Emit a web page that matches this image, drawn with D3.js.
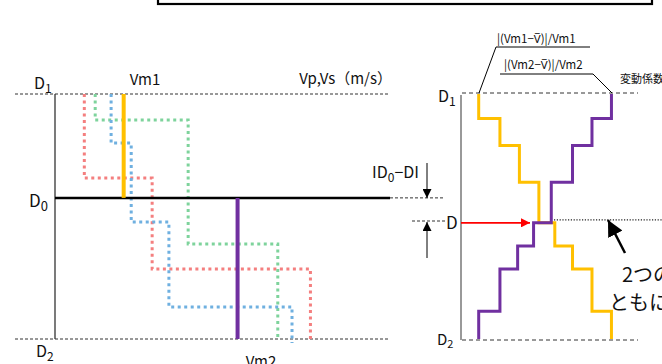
<!DOCTYPE html>
<html><head><meta charset="utf-8">
<script src="https://cdn.jsdelivr.net/npm/d3@7"></script>
<style>
html,body{margin:0;padding:0;background:#fff;}
svg{display:block;}
text{font-family:"Noto Sans CJK JP","Noto Sans",sans-serif;fill:#111;}
</style></head>
<body>
<svg id="c" width="662" height="364"></svg>
<script>
// ---- data ----
const depthLabels = ["D", "D", "D"];
const depthSubs = ["1", "0", "2"];
const depthD0 = 4.24;          // depth of D0 (D1 = 0, D2 = 10)
const vm1 = 82, vm2 = 218;     // mean velocities
const redVel = [35, 116, 305];
const redDepth = [0, 3.43, 7.14, 10];
const greenVel = [48, 159, 266];
const greenDepth = [0, 1.06, 6.12, 10];
const blueVel = [67, 91, 136, 283];
const blueDepth = [0, 2.0, 5.22, 8.69, 10.16];
const cvDepth = [0, 1.0, 2.1, 3.6, 5.26, 6.2, 7.14, 8.87, 10];
const cv1 = [0.10, 0.22, 0.33, 0.44, 0.53, 0.63, 0.74, 0.85];
const cv2 = [0.85, 0.74, 0.63, 0.51, 0.41, 0.32, 0.22, 0.10];
const minDepth = 5.26;

const svg = d3.select("#c");
const y = d3.scaleLinear().domain([0, 10]).range([94, 339]);
const xV = d3.scaleLinear().domain([0, 400]).range([55, 390]);
const xC = d3.scaleLinear().domain([0, 1]).range([461, 638]);

// defs for arrowheads
const defs = svg.append("defs");
function marker(id, color, w, h) {
  defs.append("marker").attr("id", id).attr("viewBox", "0 0 10 10")
    .attr("refX", 10).attr("refY", 5).attr("markerUnits", "userSpaceOnUse")
    .attr("markerWidth", w).attr("markerHeight", h).attr("orient", "auto")
    .append("path").attr("d", "M0,0L10,5L0,10Z").attr("fill", color);
}
marker("ab", "#000", 10, 9);
marker("ar", "#f00", 11, 9);
marker("abig", "#000", 16, 16);

// top box
svg.append("rect").attr("x", 158).attr("y", -20).attr("width", 494).attr("height", 24)
  .attr("fill", "none").attr("stroke", "#000").attr("stroke-width", 2.2);

// ---------- left panel ----------
const L = svg.append("g");
// D1 and D2 dashed
[[0, 15], [10, 15]].forEach(([d, x0]) => {
  L.append("line").attr("x1", x0).attr("x2", 390).attr("y1", y(d)).attr("y2", y(d))
    .attr("stroke", "#333").attr("stroke-width", 1).attr("stroke-dasharray", "3,2");
});
// vertical axis
L.append("line").attr("x1", 55).attr("x2", 55).attr("y1", y(0)).attr("y2", y(10))
  .attr("stroke", "#333").attr("stroke-width", 1.3);

function stepPts(vals, depths, xs) {
  const pts = [];
  vals.forEach((v, i) => { pts.push([xs(v), y(depths[i])]); pts.push([xs(v), y(depths[i + 1])]); });
  return pts;
}
const line = d3.line();
[[redVel, redDepth, "#f47f7f"], [greenVel, greenDepth, "#7ed39c"], [blueVel, blueDepth, "#6fb0e0"]]
  .forEach(([v, d, c]) => {
    L.append("path").attr("d", line(stepPts(v, d, xV))).attr("fill", "none")
      .attr("stroke", c).attr("stroke-width", 3).attr("stroke-dasharray", "3,3.5");
  });

// D0 line
L.append("line").attr("x1", 55).attr("x2", 390).attr("y1", y(depthD0)).attr("y2", y(depthD0))
  .attr("stroke", "#000").attr("stroke-width", 2.5);
L.append("line").attr("x1", 390).attr("x2", 443).attr("y1", y(depthD0)).attr("y2", y(depthD0))
  .attr("stroke", "#333").attr("stroke-width", 1).attr("stroke-dasharray", "3,2");

// Vm1 / Vm2
L.append("line").attr("x1", xV(vm1)).attr("x2", xV(vm1)).attr("y1", y(0)).attr("y2", y(depthD0))
  .attr("stroke", "#ffc000").attr("stroke-width", 4);
L.append("line").attr("x1", xV(vm2)).attr("x2", xV(vm2)).attr("y1", y(depthD0)).attr("y2", y(10))
  .attr("stroke", "#7030a0").attr("stroke-width", 4);

// labels
function dLabel(g, x, yb, main, sub, fs, sfs) {
  const t = g.append("text").attr("x", x).attr("y", yb).style("font-size", fs + "px");
  t.append("tspan").text(main);
  t.append("tspan").attr("dy", fs * 0.22).style("font-size", sfs + "px").text(sub);
  return t;
}
dLabel(L, 34, 89, depthLabels[0], depthSubs[0], 16, 12);
dLabel(L, 29, 207, depthLabels[1], depthSubs[1], 17, 13);
dLabel(L, 36, 357, depthLabels[2], depthSubs[2], 16, 12);
L.append("text").attr("x", 145).attr("y", 85).attr("text-anchor", "middle").style("font-size", "15px").text("Vm1");
L.append("text").attr("x", 392).attr("y", 84).attr("text-anchor", "end").style("font-size", "15px").text("Vp,Vs（m/s）");
L.append("text").attr("x", 261).attr("y", 367).attr("text-anchor", "middle").style("font-size", "15px").text("Vm2");

// ID0-DI annotation
const t0 = L.append("text").attr("x", 372).attr("y", 178).style("font-size", "16px");
t0.append("tspan").text("ID");
t0.append("tspan").attr("dy", 4).style("font-size", "12px").text("0");
t0.append("tspan").attr("dy", -4).text("−DI");
L.append("line").attr("x1", 427).attr("x2", 427).attr("y1", 163).attr("y2", y(depthD0))
  .attr("stroke", "#000").attr("stroke-width", 1).attr("marker-end", "url(#ab)");
L.append("line").attr("x1", 412).attr("x2", 447).attr("y1", 221).attr("y2", 221)
  .attr("stroke", "#333").attr("stroke-width", 1).attr("stroke-dasharray", "3,2");
L.append("line").attr("x1", 427).attr("x2", 427).attr("y1", 258).attr("y2", 222)
  .attr("stroke", "#000").attr("stroke-width", 1).attr("marker-end", "url(#ab)");

// ---------- right panel ----------
const R = svg.append("g");
[[0, 93], [10, 340]].forEach(([d, yy]) => {
  R.append("line").attr("x1", 462).attr("x2", 638).attr("y1", yy).attr("y2", yy)
    .attr("stroke", "#333").attr("stroke-width", 1).attr("stroke-dasharray", "4,3");
});
R.append("line").attr("x1", 461).attr("x2", 461).attr("y1", 95).attr("y2", 340)
  .attr("stroke", "#777").attr("stroke-width", 1.5);

R.append("path").attr("d", line(stepPts(cv1, cvDepth, xC))).attr("fill", "none")
  .attr("stroke", "#ffc000").attr("stroke-width", 3);
R.append("path").attr("d", line(stepPts(cv2, cvDepth, xC))).attr("fill", "none")
  .attr("stroke", "#7030a0").attr("stroke-width", 3);

dLabel(R, 438, 102, depthLabels[0], depthSubs[0], 16, 12);
R.append("text").attr("x", 446).attr("y", 229).style("font-size", "17px").text("D");
dLabel(R, 437, 345, depthLabels[2], depthSubs[2], 15, 11);

// red arrow
R.append("line").attr("x1", 461).attr("x2", 530).attr("y1", y(minDepth)).attr("y2", y(minDepth))
  .attr("stroke", "#f00").attr("stroke-width", 1.6).attr("marker-end", "url(#ar)");
// dotted line
R.append("line").attr("x1", 554).attr("x2", 662).attr("y1", y(minDepth) - 3).attr("y2", y(minDepth) - 3)
  .attr("stroke", "#222").attr("stroke-width", 1.2).attr("stroke-dasharray", "1.2,1.6");
// black arrow
R.append("line").attr("x1", 625).attr("x2", 608).attr("y1", 253).attr("y2", 220)
  .attr("stroke", "#000").attr("stroke-width", 2.5).attr("marker-end", "url(#abig)");

// CV labels
R.append("text").attr("x", 497).attr("y", 43).style("font-size", "11.5px").text("|(Vm1−V\u0305)|/Vm1");
R.append("path").attr("d", "M590,47L496,47L479,93").attr("fill", "none").attr("stroke", "#000").attr("stroke-width", 1);
R.append("text").attr("x", 504).attr("y", 69).style("font-size", "11.5px").text("|(Vm2−V\u0305)|/Vm2");
R.append("path").attr("d", "M500,74L593,74L612,93").attr("fill", "none").attr("stroke", "#000").attr("stroke-width", 1);
R.append("text").attr("x", 620).attr("y", 83).style("font-size", "11px").text("変動係数");

R.append("text").attr("x", 622).attr("y", 282).style("font-size", "20px").text("2つの");
R.append("text").attr("x", 609).attr("y", 310).style("font-size", "20px").text("ともに");
</script>
</body></html>
